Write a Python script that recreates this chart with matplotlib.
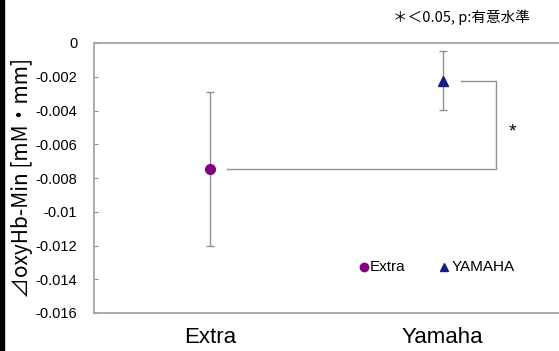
import matplotlib
matplotlib.use("Agg")
import matplotlib.pyplot as plt
from matplotlib.patches import Rectangle

# data
groups = ["Extra", "Yamaha"]
means = [-0.00747, -0.00225]
err_low = [0.00456, 0.00172]
err_high = [0.00457, 0.00178]
series_names = ["Extra", "YAMAHA"]
colors = ["#800080", "#1a1a80"]
markers = ["o", "^"]
yticks = [0, -0.002, -0.004, -0.006, -0.008, -0.01, -0.012, -0.014, -0.016]
ytick_labels = ["0", "-0.002", "-0.004", "-0.006", "-0.008", "-0.01", "-0.012", "-0.014", "-0.016"]

plt.rcParams['font.family'] = ['Liberation Sans', 'Noto Sans CJK JP', 'DejaVu Sans']

fig = plt.figure(figsize=(5.59, 3.51), dpi=100)
ax = fig.add_axes([94/559, 1 - 313/351, 1 - 94/559, 270/351])

xs = [1, 2]
for i in range(2):
    ax.errorbar(xs[i], means[i], yerr=[[err_low[i]], [err_high[i]]], fmt="none",
                ecolor="#909090", elinewidth=1.0, capsize=3, capthick=1.0, zorder=2)
    ax.plot(xs[i], means[i], marker=markers[i], color=colors[i], markersize=7,
            linestyle="none", zorder=3)

# significance bracket
bx = 2.23
ax.plot([1.07, bx, bx, 2.08], [means[0], means[0], means[1], means[1]],
        color="#909090", lw=1.0, zorder=1)
ax.text(bx + 0.07, (means[0] + means[1]) / 2 - 0.0004, "*", fontsize=14,
        ha="center", va="center")

ax.set_xlim(0.5, 2.5)
ax.set_ylim(-0.016, 0)
ax.set_xticks(xs)
ax.set_xticklabels(groups, fontsize=16)
ax.set_yticks(yticks)
ax.set_yticklabels(ytick_labels, fontsize=10.5)
ax.tick_params(axis="y", direction="in", length=3, color="#909090", pad=12)
ax.tick_params(axis="x", length=0, pad=10)

for s in ["left", "bottom", "top"]:
    ax.spines[s].set_color("#a0a0a0")
    ax.spines[s].set_linewidth(1.2)
ax.spines["right"].set_visible(False)

ax.set_ylabel("⊿oxyHb-Min [mM・mm]", fontsize=15,
              family=['Noto Sans CJK JP', 'DejaVu Sans'], labelpad=2)

# legend drawn as text in the plot
leg_y = -0.01327
ax.plot(1.661, leg_y, marker="o", color=colors[0], markersize=6)
ax.text(1.687, leg_y, series_names[0], fontsize=11, va="center")
ax.plot(2.005, leg_y, marker="^", color=colors[1], markersize=6)
ax.text(2.04, leg_y, series_names[1], fontsize=11, va="center")

fig.text(393/559, 1 - 17/351, "＊＜0.05, p:有意水準", fontsize=10.5, va="center",
         family=['Noto Sans CJK JP', 'DejaVu Sans'])

fig.patches.append(Rectangle((0, 0), 4/559, 1, transform=fig.transFigure,
                             color="black", zorder=0))

fig.savefig("out.png", dpi=100)
